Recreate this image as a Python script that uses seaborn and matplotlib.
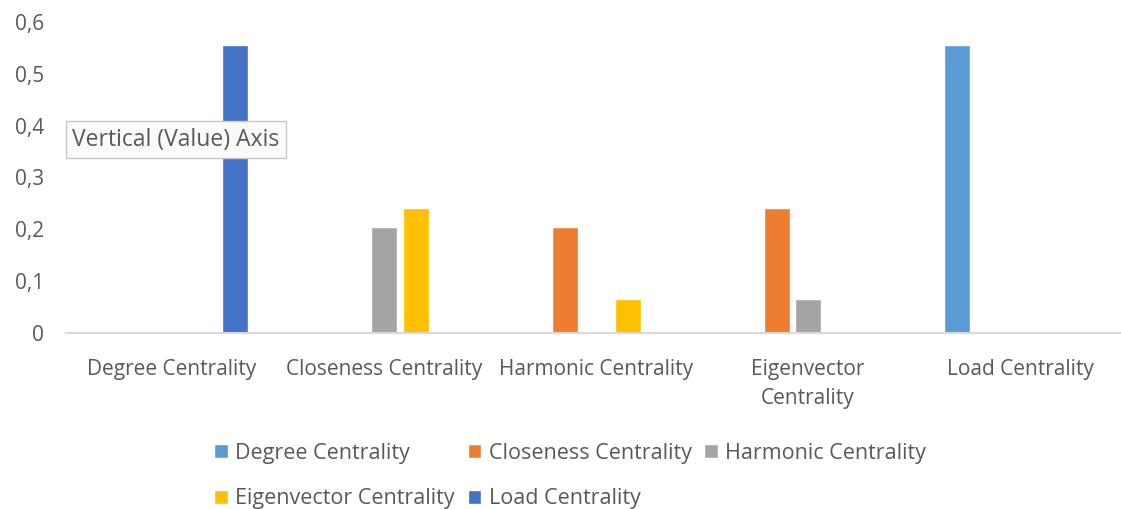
import pandas as pd
import numpy as np
import seaborn as sns
import matplotlib.pyplot as plt
from matplotlib.ticker import FuncFormatter
from matplotlib.patches import Patch

categories = ["Degree Centrality", "Closeness Centrality", "Harmonic Centrality",
              "Eigenvector Centrality", "Load Centrality"]
tick_labels = ["Degree Centrality", "Closeness Centrality", "Harmonic Centrality",
               "Eigenvector\nCentrality", "Load Centrality"]
series = ["Degree Centrality", "Closeness Centrality", "Harmonic Centrality",
          "Eigenvector Centrality", "Load Centrality"]
colors = ["#5B9BD5", "#ED7D31", "#A5A5A5", "#FFC000", "#4472C4"]

# one list per series, values per category
degree = [0, 0, 0, 0, 0.5556]
closeness = [0, 0, 0.2037, 0.2407, 0]
harmonic = [0, 0.2037, 0, 0.0648, 0]
eigenvector = [0, 0.2407, 0.0648, 0, 0]
load = [0.5556, 0, 0, 0, 0]

rows = []
for name, vals in zip(series, [degree, closeness, harmonic, eigenvector, load]):
    for cat, v in zip(categories, vals):
        rows.append({"category": cat, "series": name, "value": v})
df = pd.DataFrame(rows)

sns.set_style("white")
plt.rcParams['font.family'] = ['Open Sans', 'DejaVu Sans']
text_col = "#595959"
fs = 15

fig = plt.figure(figsize=(11.21, 5.09), dpi=100)
# plot area runs slightly past the right edge (screenshot is cropped)
ax = fig.add_axes([0.0589, 0.3458, 0.9456, 0.611])

sns.barplot(data=df, x="category", y="value", hue="series",
            order=categories, hue_order=series,
            palette=dict(zip(series, colors)), saturation=1,
            width=0.743, gap=0.175, legend=False, ax=ax)

ax.set_xlim(-0.5, 4.5)
ax.set_ylim(0, 0.6)
ax.set_yticks(np.arange(0, 0.61, 0.1))
ax.yaxis.set_major_formatter(FuncFormatter(lambda v, p: "0" if v == 0 else f"{v:.1f}".replace(".", ",")))
ax.set_xticks(range(len(categories)))
ax.set_xticklabels(tick_labels, fontsize=fs, color=text_col, linespacing=1.45)
ax.tick_params(axis="y", labelsize=fs, labelcolor=text_col, length=0, pad=16)
ax.tick_params(axis="x", length=0, pad=19)
ax.set_xlabel("")
ax.set_ylabel("")
for s in ["left", "right", "top"]:
    ax.spines[s].set_visible(False)
ax.spines["bottom"].set_color("#D9D9D9")
ax.spines["bottom"].set_linewidth(1.5)

# tooltip box
ax.text(-0.47, 0.373, "Vertical (Value) Axis", fontsize=16.5, color=text_col,
        va="center", ha="left",
        bbox=dict(boxstyle="square,pad=0.28", facecolor="#FAFAFA", edgecolor="#C8C8C8"))

handles = [Patch(facecolor=c, label=s) for s, c in zip(series, colors)]
order = [0, 3, 1, 4, 2]
fig.legend([handles[i] for i in order], [series[i] for i in order],
           ncol=3, loc="lower left", bbox_to_anchor=(0.174, -0.039),
           frameon=False, fontsize=15.5, labelcolor=text_col,
           handlelength=0.62, handleheight=0.62, handletextpad=0.35,
           columnspacing=0.6, labelspacing=1.15)

fig.savefig("out.png", dpi=100)
